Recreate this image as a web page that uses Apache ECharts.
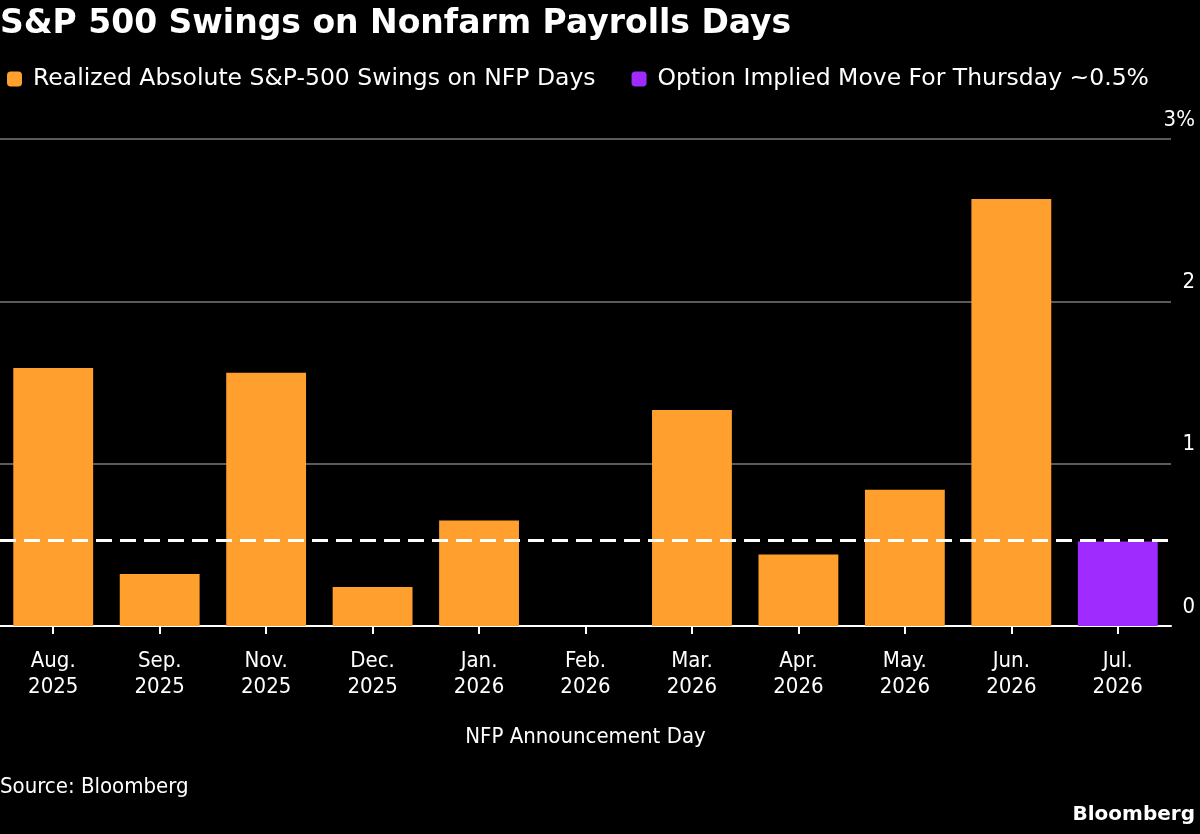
<!DOCTYPE html>
<html><head><meta charset="utf-8">
<script src="https://cdn.jsdelivr.net/npm/echarts@6/dist/echarts.min.js"></script>
<style>html,body{margin:0;padding:0;background:#000;}#c{width:1200px;height:834px;}</style>
</head><body><div id="c"></div>
<script>
const categories = ["Aug.\n2025","Sep.\n2025","Nov.\n2025","Dec.\n2025","Jan.\n2026","Feb.\n2026","Mar.\n2026","Apr.\n2026","May.\n2026","Jun.\n2026","Jul.\n2026"];
const realizedSwings = [1.59, 0.32, 1.56, 0.24, 0.65, 0, 1.33, 0.44, 0.84, 2.63, null];
const impliedMoveBar = [null, null, null, null, null, null, null, null, null, null, 0.52];
const impliedMove = 0.53;
const yTicks = [0, 1, 2, 3];

const FONT = "'DejaVu Sans Condensed', 'DejaVu Sans', sans-serif";
const chart = echarts.init(document.getElementById('c'));
chart.setOption({
  backgroundColor: '#000',
  animation: false,
  textStyle: { fontFamily: FONT },
  title: [
    { text: 'S&P 500 Swings on Nonfarm Payrolls Days', left: 0, top: 3, padding: [5, 0, 0, 0],
      textStyle: { color: '#fff', fontSize: 33, fontWeight: 'bold', fontFamily: "'DejaVu Sans', sans-serif" } },
    { text: 'Source: Bloomberg', left: 0, top: 771, padding: [5, 0, 0, 0],
      textStyle: { color: '#fff', fontSize: 22, fontWeight: 'normal', fontFamily: FONT } },
    { text: 'Bloomberg', right: 5, top: 805, padding: 0,
      textStyle: { color: '#fff', fontSize: 20, fontWeight: 'bold', fontFamily: "'DejaVu Sans', sans-serif" } }
  ],
  legend: {
    left: 2, top: 62, itemWidth: 15, itemHeight: 15, itemGap: 36, icon: 'roundRect',
    textStyle: { color: '#fff', fontSize: 23.5, fontFamily: "'DejaVu Sans', sans-serif", padding: [0, 0, 0, 6] },
    data: ['Realized Absolute S&P-500 Swings on NFP Days', 'Option Implied Move For Thursday ~0.5%']
  },
  grid: { left: 0, right: 29, top: 139, bottom: 208, containLabel: false },
  xAxis: {
    type: 'category', data: categories,
    name: 'NFP Announcement Day', nameLocation: 'middle', nameGap: 100,
    nameTextStyle: { color: '#fff', fontSize: 22, fontFamily: FONT },
    axisLine: { lineStyle: { color: '#fff', width: 2 } },
    axisTick: { show: true, alignWithLabel: true, length: 8, lineStyle: { color: '#fff', width: 2 } },
    axisLabel: { color: '#fff', fontSize: 22, lineHeight: 26, margin: 22, fontFamily: FONT, interval: 0 }
  },
  yAxis: {
    type: 'value', position: 'right', min: 0, max: 3, interval: 1,
    splitLine: { lineStyle: { color: '#5a5a5a', width: 2 } },
    axisLine: { show: false }, axisTick: { show: false },
    axisLabel: {
      color: '#fff', fontSize: 22, fontFamily: FONT, align: 'right', verticalAlign: 'bottom',
      margin: 24, padding: [0, 0, 8, 0],
      formatter: v => (v === yTicks[yTicks.length - 1] ? v + '%' : String(v))
    }
  },
  series: [
    { name: 'Realized Absolute S&P-500 Swings on NFP Days', type: 'bar', stack: 's',
      barWidth: '75%', data: realizedSwings, itemStyle: { color: '#ffa02e' },
      markLine: {
        silent: true, symbol: 'none', label: { show: false },
        lineStyle: { color: '#fff', type: [16, 8], width: 3 },
        data: [{ yAxis: impliedMove }]
      },
      z: 3
    },
    { name: 'Option Implied Move For Thursday ~0.5%', type: 'bar', stack: 's',
      barWidth: '75%', data: impliedMoveBar, itemStyle: { color: '#9f2bff' }, z: 2 }
  ]
});
</script></body></html>
